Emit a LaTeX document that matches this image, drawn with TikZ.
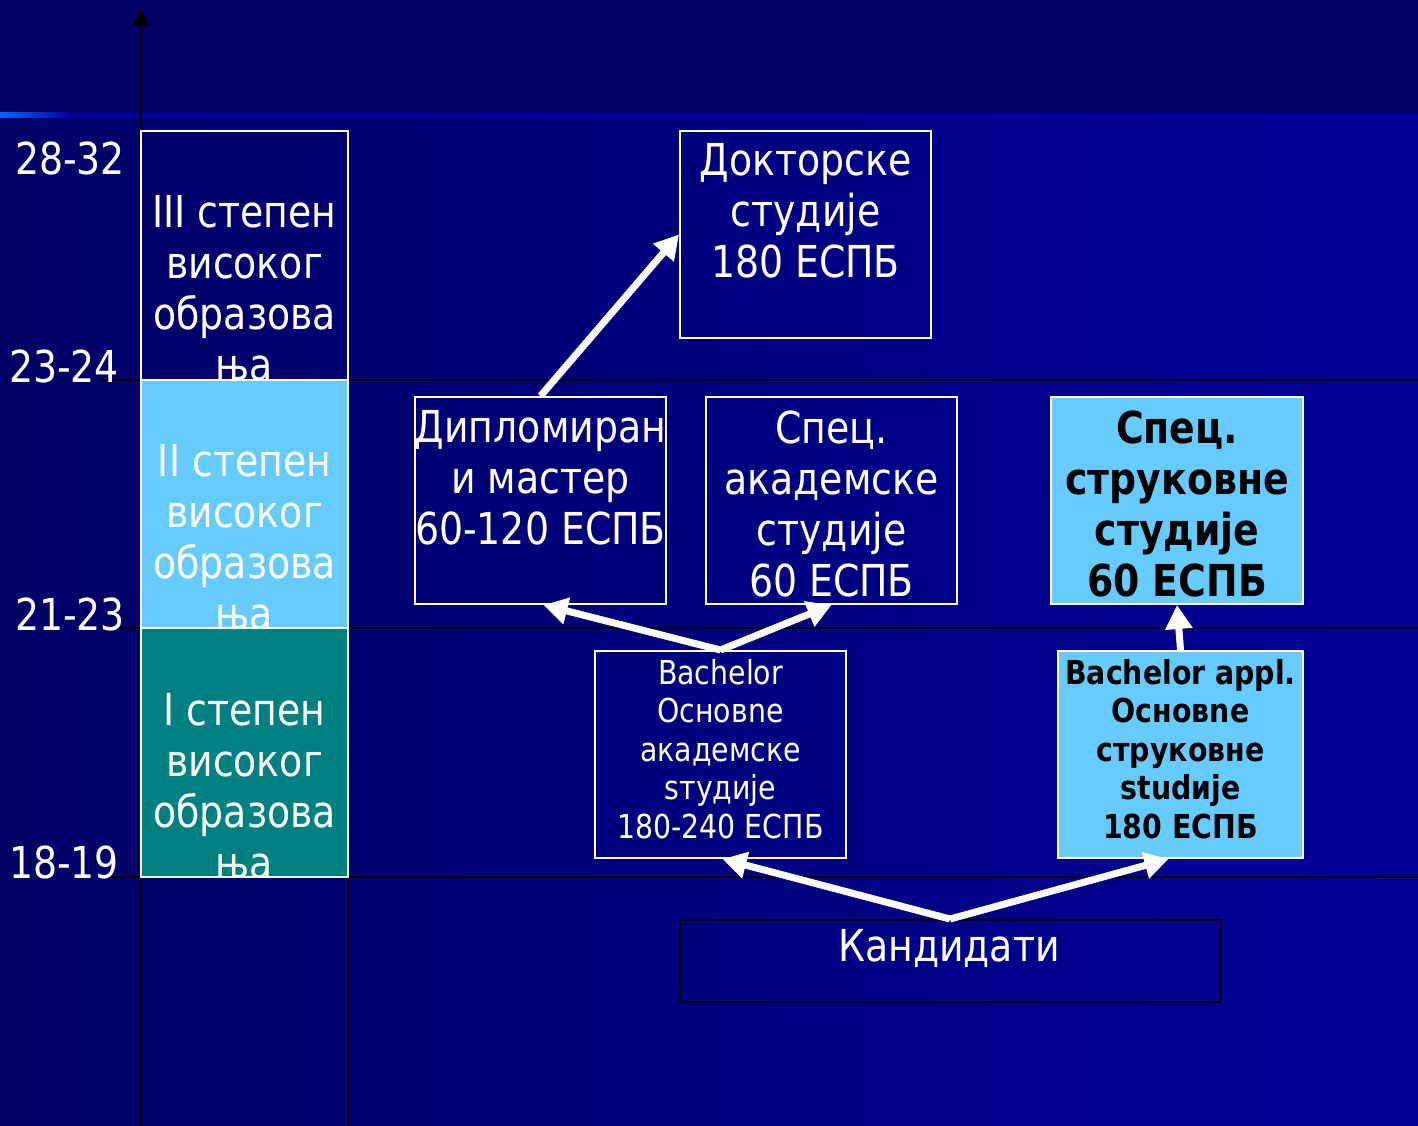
\documentclass[tikz,border=0pt]{standalone}
\usepackage{fontspec}
\setmainfont[FakeStretch=0.86]{DejaVu Sans}
\usetikzlibrary{arrows.meta}
\definecolor{bgdark}{RGB}{0,0,102}
\definecolor{bgright}{RGB}{0,0,153}
\definecolor{bandblue}{RGB}{0,0,160}
\definecolor{bandlight}{RGB}{0,102,255}
\definecolor{lightblue}{RGB}{102,204,255}
\definecolor{tealbox}{RGB}{0,128,128}

\begin{document}
\begin{tikzpicture}[x=1pt,y=-1pt,
  axisline/.style={black,line width=2pt},
  colbox/.style={draw=white,line width=2pt,minimum width=207pt},
  box/.style={draw=white,line width=2pt,minimum width=251pt,minimum height=207pt},
  bigtext/.style={text=white,align=center,inner sep=0pt,font=\fontsize{44}{51}\selectfont},
  smalltext/.style={text=white,align=center,inner sep=0pt,font=\fontsize{33}{38.5}\selectfont},
  flow/.style={white,line width=7pt,-{Triangle[length=24pt,width=26pt]}}]
\useasboundingbox (0,0) rectangle (1418,1126);
% background
\fill[bgdark] (0,0) rectangle (1418,118);
\shade[left color=bgdark,right color=bgright] (0,118) rectangle (1418,1126);
\fill[bandblue] (70,113) rectangle (1418,118);
\shade[left color=bandlight,right color=bandblue] (0,113) rectangle (70,118);
% age lines
\draw[axisline] (100,380) -- (1418,380);
\draw[axisline] (100,628) -- (1418,628);
\draw[axisline] (110,877) -- (1418,877);
\draw[axisline] (348,877) -- (348,1126);
\draw[axisline,-{Triangle[length=18pt,width=16pt]}] (141,1126) -- (141,8);
% ages
\node[bigtext] (a1) at (70,158) {28-32};
\node[bigtext] (a2) at (64,366) {23-24};
\node[bigtext] (a3) at (70,614) {21-23};
\node[bigtext] (a4) at (64,862) {18-19};
% degrees
\node[colbox,minimum height=249pt] (deg3) at (244.5,255.5) {};
\begin{scope}
\clip (141,131) rectangle (348,380);
\node[bigtext] (deg3-t) at (244.5,288.5) {III степен\\високог\\образова\\ња};
\end{scope}
\node[colbox,fill=lightblue,minimum height=248pt] (deg2) at (244.5,504) {};
\begin{scope}
\clip (141,380) rectangle (348,628);
\node[bigtext] (deg2-t) at (244.5,537.5) {II степен\\високог\\образова\\ња};
\end{scope}
\node[colbox,fill=tealbox,minimum height=249pt] (deg1) at (244.5,752.5) {};
\begin{scope}
\clip (141,628) rectangle (348,877);
\node[bigtext] (deg1-t) at (244.5,786.5) {I степен\\високог\\образова\\ња};
\end{scope}
% studies
\node[box] (dok) at (805.5,234.5) {};
\node[bigtext] (dok-t) at (805.5,211) {Докторске\\студије\\180 ЕСПБ};
\node[box] (dipl) at (540.5,500.5) {};
\node[bigtext] (dipl-t) at (540.5,478) {Дипломиран\\и мастер\\60-120 ЕСПБ};
\node[box] (specak) at (831.5,500.5) {};
\node[bigtext] (specak-t) at (831.5,503.5) {Спец.\\академске\\студије\\60 ЕСПБ};
\node[box,fill=lightblue,minimum width=252pt] (specstr) at (1177,500.5) {};
\node[bigtext,text=black,font=\fontsize{44}{51}\selectfont\bfseries] (specstr-t) at (1177,503.5) {Спец.\\струковне\\студије\\60 ЕСПБ};
\node[box] (bach) at (720.5,754.5) {};
\node[smalltext] (bach-t) at (720.5,749) {Bachelor\\Основne\\академске\\sтудије\\180-240 ЕСПБ};
\node[box,fill=lightblue,minimum width=245pt] (bachappl) at (1180.5,754.5) {};
\node[smalltext,text=black,font=\fontsize{33}{38.5}\selectfont\bfseries] (bachappl-t) at (1180.5,749) {Bachelor appl.\\Основne\\струковне\\studије\\180 ЕСПБ};
\node[box,draw=black,minimum width=540pt,minimum height=82pt] (kand) at (950,961) {};
\node[bigtext] (kand-t) at (949,948) {Кандидати};
% arrows
\draw[flow] (dipl.north) -- (dok.west);
\draw[flow] (bach.north) -- ([xshift=3pt]dipl.south);
\draw[flow] (bach.north) -- (specak.south);
\draw[flow] (bachappl.north) -- (specstr.south);
\draw[flow] (kand.north) -- ([xshift=2pt]bach.south);
\draw[flow] (kand.north) -- ([xshift=-12pt]bachappl.south);
\end{tikzpicture}
\end{document}
